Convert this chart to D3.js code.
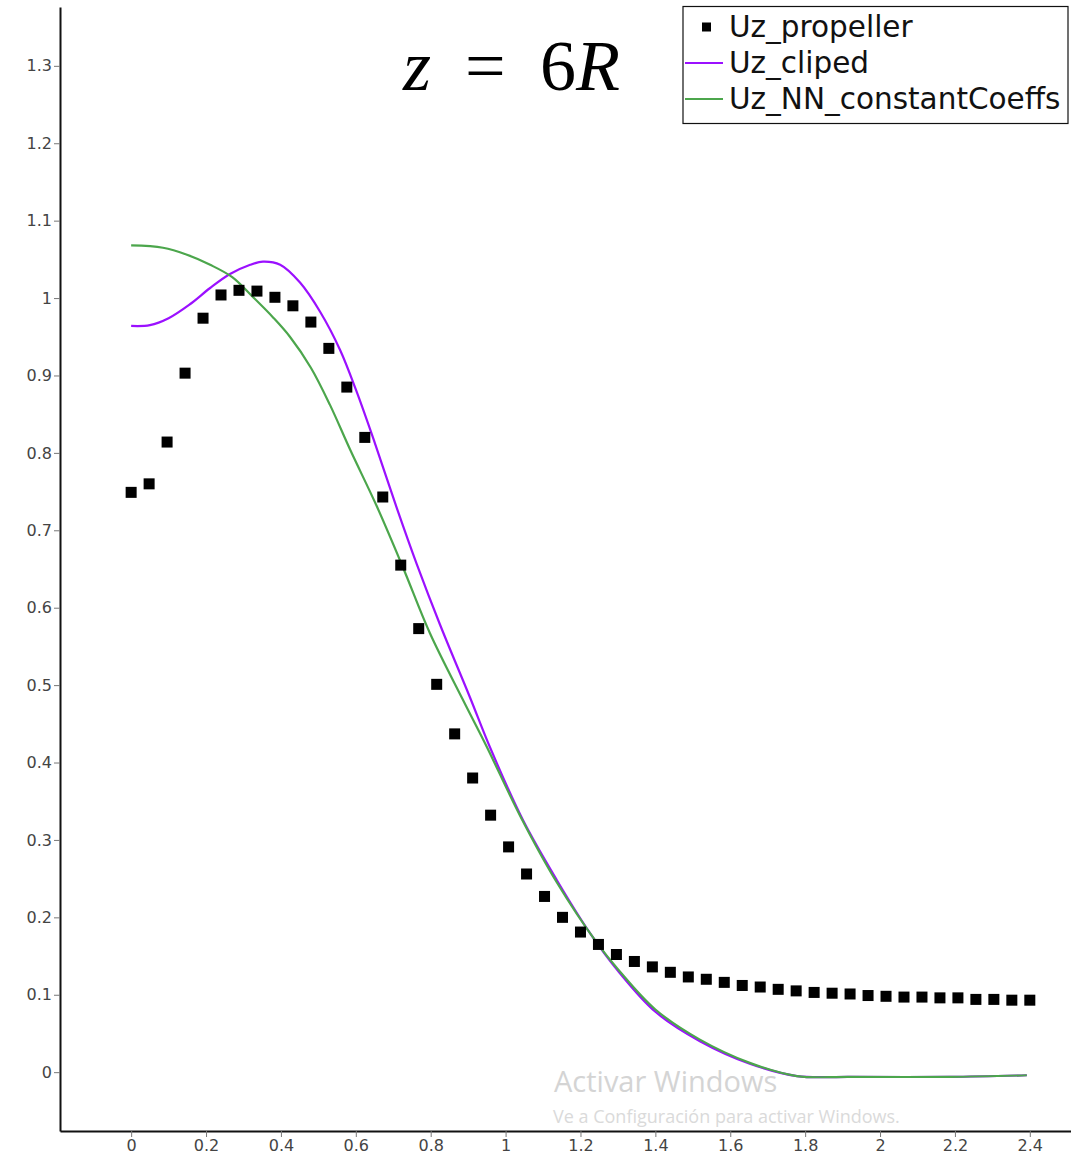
<!DOCTYPE html>
<html>
<head>
<meta charset="utf-8">
<script src="https://cdn.jsdelivr.net/npm/d3@7"></script>
<style>
  html, body { margin: 0; padding: 0; background: #fff; }
  svg { display: block; }
</style>
</head>
<body>
<svg id="chart" width="1071" height="1159"></svg>
<script>
// ---- data ----
const propellerX = [0, 0.048, 0.096, 0.144, 0.192, 0.24, 0.288, 0.336, 0.384, 0.432,
  0.48, 0.528, 0.576, 0.624, 0.672, 0.72, 0.768, 0.816, 0.864, 0.912,
  0.96, 1.008, 1.056, 1.104, 1.152, 1.2, 1.248, 1.296, 1.344, 1.392,
  1.44, 1.488, 1.536, 1.584, 1.632, 1.68, 1.728, 1.776, 1.824, 1.872,
  1.92, 1.968, 2.016, 2.064, 2.112, 2.16, 2.208, 2.256, 2.304, 2.352, 2.4];
const propellerY = [0.749, 0.760, 0.814, 0.903, 0.974, 1.004, 1.010, 1.009, 1.001, 0.990,
  0.969, 0.935, 0.885, 0.820, 0.743, 0.655, 0.573, 0.501, 0.437, 0.380,
  0.332, 0.291, 0.256, 0.227, 0.200, 0.181, 0.165, 0.152, 0.143, 0.136,
  0.129, 0.123, 0.120, 0.116, 0.112, 0.110, 0.107, 0.105, 0.103, 0.102,
  0.101, 0.099, 0.098, 0.097, 0.097, 0.096, 0.096, 0.094, 0.094, 0.093, 0.093];

const clipedX = [0, 0.05, 0.10, 0.157, 0.211, 0.264, 0.318, 0.352, 0.398, 0.451, 0.505, 0.558,
  0.600, 0.650, 0.710, 0.763, 0.825, 0.905, 0.958, 1.046, 1.137, 1.225, 1.300, 1.400, 1.519, 1.652,
  1.778, 1.919, 2.186, 2.392];
const clipedY = [0.964, 0.965, 0.974, 0.992, 1.013, 1.031, 1.043, 1.047, 1.043, 1.020, 0.982, 0.933,
  0.882, 0.814, 0.728, 0.656, 0.578, 0.484, 0.420, 0.326, 0.248, 0.180, 0.131, 0.078, 0.040, 0.011,
  -0.005, -0.006, -0.006, -0.004];

const nnX = [0, 0.085, 0.149, 0.211, 0.270, 0.326, 0.379, 0.424, 0.480, 0.531, 0.585, 0.657, 0.726,
  0.798, 0.886, 0.950, 1.040, 1.137, 1.244, 1.300, 1.400, 1.519, 1.652, 1.778, 1.919, 2.186, 2.392];
const nnY = [1.068, 1.065, 1.056, 1.043, 1.027, 1.001, 0.975, 0.950, 0.910, 0.862, 0.804, 0.730, 0.652,
  0.567, 0.481, 0.420, 0.330, 0.245, 0.167, 0.133, 0.081, 0.042, 0.012, -0.005, -0.006, -0.006, -0.004];

const xTicks = [0, 0.2, 0.4, 0.6, 0.8, 1, 1.2, 1.4, 1.6, 1.8, 2, 2.2, 2.4];
const xTickLabels = ["0", "0.2", "0.4", "0.6", "0.8", "1", "1.2", "1.4", "1.6", "1.8", "2", "2.2", "2.4"];
const yTicks = [0, 0.1, 0.2, 0.3, 0.4, 0.5, 0.6, 0.7, 0.8, 0.9, 1, 1.1, 1.2, 1.3];
const yTickLabels = ["0", "0.1", "0.2", "0.3", "0.4", "0.5", "0.6", "0.7", "0.8", "0.9", "1", "1.1", "1.2", "1.3"];

const seriesNames = ["Uz_propeller", "Uz_cliped", "Uz_NN_constantCoeffs"];
const seriesColors = ["#000000", "#9b10ff", "#4ca64c"];

// ---- drawing ----
(function () {
const svg = d3.select("#chart");
const W = 1071, H = 1159;
const mLeft = 60, mRight = 1071, mTop = 7, mBottom = 1131;

const x = d3.scaleLinear().domain([-0.19, 2.51]).range([mLeft, mRight]);
const y = d3.scaleLinear().domain([-0.076, 1.376]).range([mBottom, mTop]);

svg.append("rect").attr("width", W).attr("height", H).attr("fill", "#fff");

// watermark
svg.append("text").attr("x", 554).attr("y", 1092)
  .attr("font-family", "'Open Sans', sans-serif").attr("font-size", 29)
  .attr("fill", "#d4d4d4").text("Activar Windows");
svg.append("text").attr("x", 553).attr("y", 1123)
  .attr("font-family", "'Open Sans', sans-serif").attr("font-size", 18)
  .attr("fill", "#dadada").text("Ve a Configuración para activar Windows.");

// axes
const tickFont = "'DejaVu Sans', sans-serif";
const yAxis = d3.axisLeft(y).tickValues(yTicks)
  .tickFormat((d, i) => yTickLabels[i]).tickSize(6).tickSizeOuter(0).tickPadding(2);
const gy = svg.append("g").attr("transform", `translate(${mLeft},0)`).call(yAxis);
const xAxis = d3.axisBottom(x).tickValues(xTicks)
  .tickFormat((d, i) => xTickLabels[i]).tickSize(6).tickSizeOuter(0).tickPadding(3);
const gx = svg.append("g").attr("transform", `translate(0,${mBottom})`).call(xAxis);

[gx, gy].forEach(g => {
  g.select(".domain").attr("stroke", "#111").attr("stroke-width", 2);
  g.selectAll(".tick line").attr("stroke", "#777").attr("stroke-width", 1);
  g.selectAll(".tick text").attr("font-family", tickFont).attr("font-size", 16)
    .attr("fill", "#444");
});

// curves
const line = d3.line().x(d => x(d[0])).y(d => y(d[1])).curve(d3.curveCatmullRom.alpha(0.5));
svg.append("path").datum(clipedX.map((v, i) => [v, clipedY[i]]))
  .attr("d", line).attr("fill", "none").attr("stroke", seriesColors[1]).attr("stroke-width", 2.2);
svg.append("path").datum(nnX.map((v, i) => [v, nnY[i]]))
  .attr("d", line).attr("fill", "none").attr("stroke", seriesColors[2]).attr("stroke-width", 2.2);

// squares
const sq = 11;
svg.append("g").selectAll("rect").data(propellerX.map((v, i) => [v, propellerY[i]]))
  .join("rect")
  .attr("x", d => x(d[0]) - sq / 2).attr("y", d => y(d[1]) - sq / 2)
  .attr("width", sq).attr("height", sq).attr("fill", seriesColors[0]);

// title z = 6R
const title = svg.append("text").attr("y", 90)
  .attr("font-family", "'Liberation Serif', 'DejaVu Serif', serif").attr("font-size", 72)
  .attr("fill", "#000");
title.append("tspan").attr("x", 403).attr("font-style", "italic").text("z");
title.append("tspan").attr("x", 465).text("=");
title.append("tspan").attr("x", 540).text("6");
title.append("tspan").attr("x", 576).attr("font-style", "italic").text("R");

// legend
const lg = svg.append("g");
lg.append("rect").attr("x", 683).attr("y", 6.5).attr("width", 385).attr("height", 117)
  .attr("fill", "#fff").attr("stroke", "#111").attr("stroke-width", 1.2);
const rowY = [27, 63, 99];
const baseY = [37, 73, 109];
seriesNames.forEach((name, i) => {
  if (i === 0) {
    lg.append("rect").attr("x", 702).attr("y", rowY[i] - 4.5).attr("width", 9).attr("height", 9)
      .attr("fill", seriesColors[0]);
  } else {
    lg.append("line").attr("x1", 685).attr("x2", 723).attr("y1", rowY[i]).attr("y2", rowY[i])
      .attr("stroke", seriesColors[i]).attr("stroke-width", 2);
  }
  lg.append("text").attr("x", 729).attr("y", baseY[i])
    .attr("font-family", "'DejaVu Sans', sans-serif").attr("font-size", 29.5)
    .attr("fill", "#111").text(name);
});
})();
</script>
</body>
</html>
